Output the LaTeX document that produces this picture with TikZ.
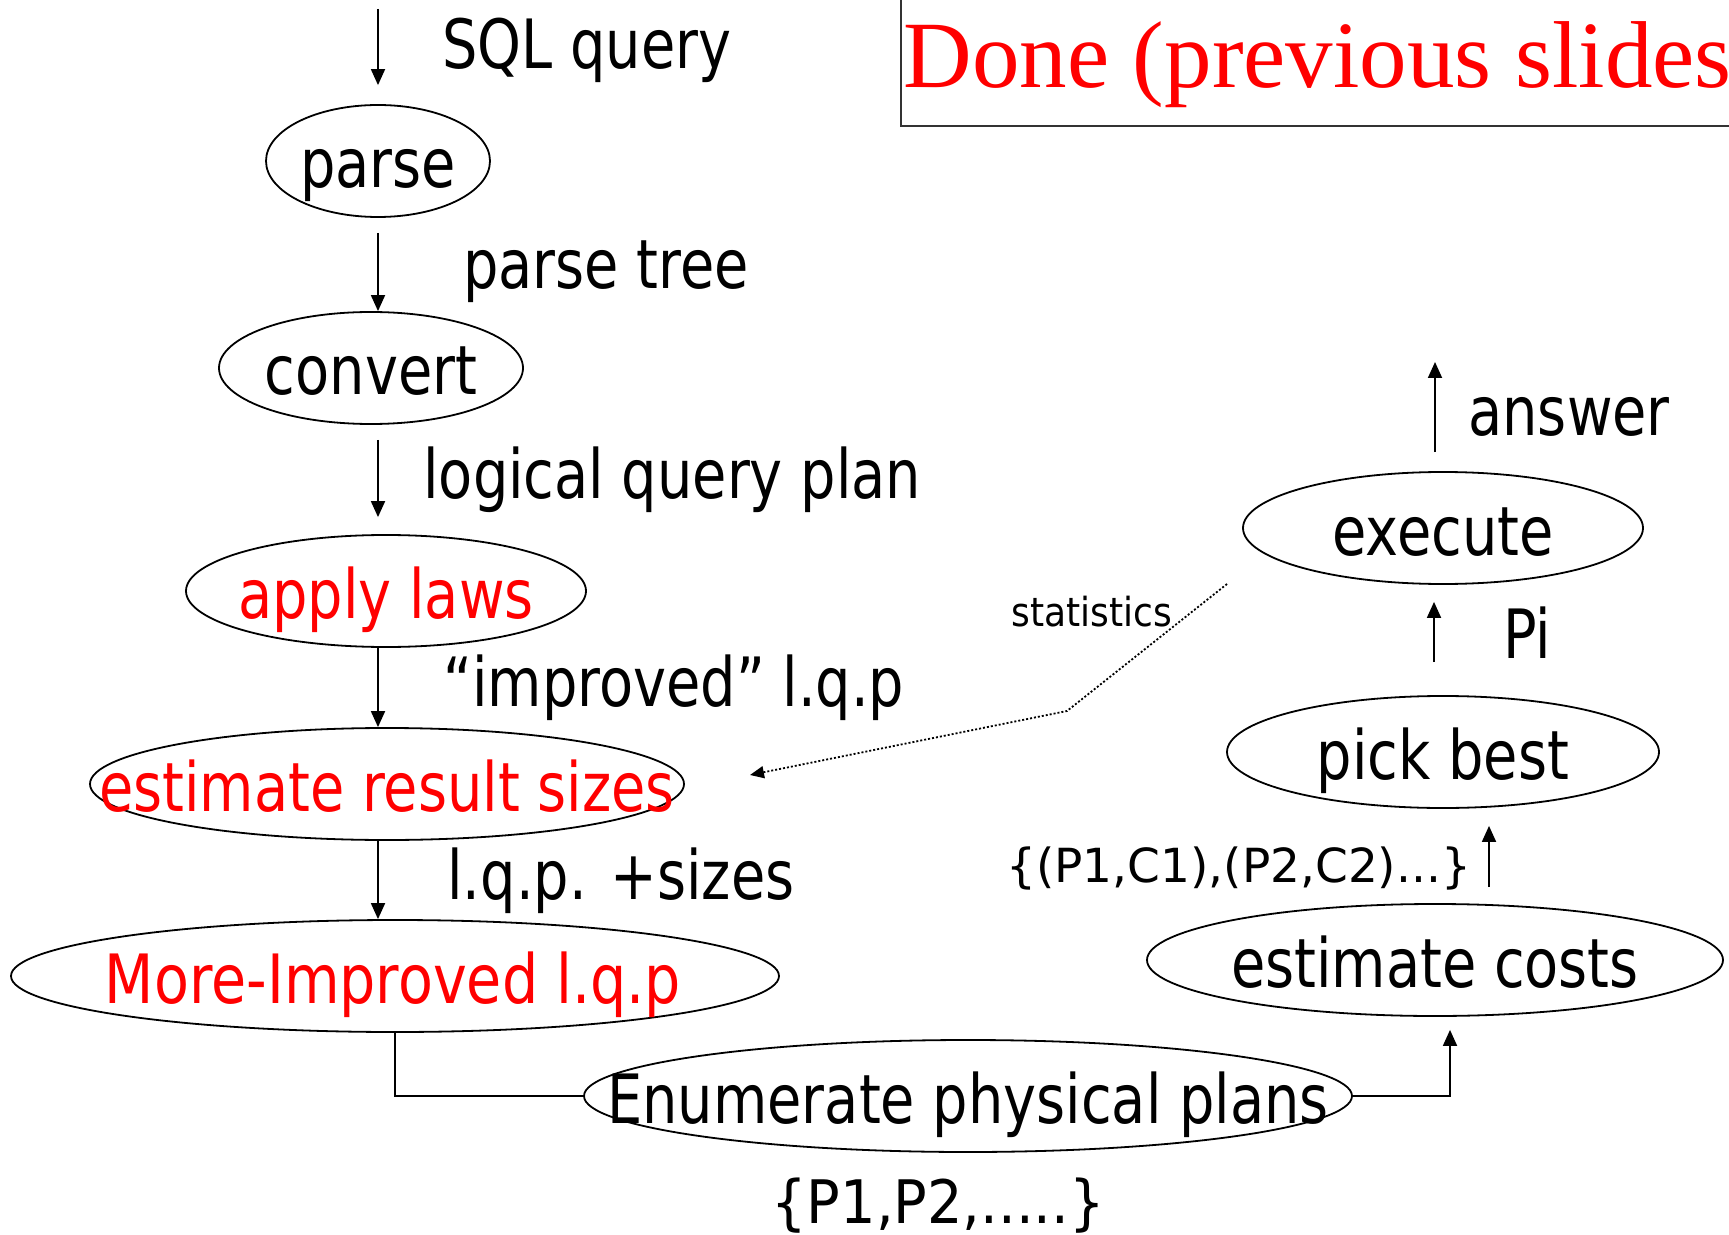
\documentclass[tikz,border=0pt]{standalone}
\usepackage{fontspec}
\setmainfont{DejaVu Sans}[FakeStretch=0.82]
\newfontfamily\widersans{DejaVu Sans}[FakeStretch=0.84]
\newfontfamily\narrowsans{DejaVu Sans}[FakeStretch=0.9]
\newfontfamily\midsans{DejaVu Sans}[FakeStretch=0.93]
\newfontfamily\plainsans{DejaVu Sans}
\newfontfamily\serifface{Liberation Serif}
\usetikzlibrary{shapes.geometric,arrows.meta}

\begin{document}
\begin{tikzpicture}[x=0.5pt,y=-0.5pt,
  oval/.style={draw, ellipse, inner sep=0pt, minimum height=56pt, line width=0.9pt},
  stage/.style={font=\fontsize{34}{40}\selectfont, inner sep=0pt, text height=32pt, text depth=5pt},
  redstage/.style={stage, text=red},
  lab/.style={font=\fontsize{34}{40}\selectfont, inner sep=0pt, anchor=base west},
  flow/.style={line width=0.9pt, -{Triangle[length=8pt,width=7pt]}},
  link/.style={line width=0.9pt},
  hint/.style={line width=0.9pt, dash pattern=on 1pt off 1pt, -{Triangle[length=7pt,width=6pt]}}]

\useasboundingbox (0,0) rectangle (1729,1235);
\clip (0,0) rectangle (1729,1235);

% title box in the top right corner
\coordinate (boxtop) at (901,0);
\coordinate (boxcorner) at (901,126);
\coordinate (boxend) at (1729,126);
\draw[line width=1.2pt, black!80] (boxtop) -- (boxcorner) -- (boxend);
\node[anchor=base west, inner sep=0pt, text=red, font=\serifface\fontsize{47.5}{52}\selectfont] (done) at (903,88) {Done (previous slides};

% stages of the pipeline
\node[oval, minimum width=112pt] (parse) at (378,161) {};
\node[oval, minimum width=152pt] (convert) at (371,368) {};
\node[oval, minimum width=200pt] (apply) at (386,591) {};
\node[oval, minimum width=297pt] (estsize) at (387,784) {};
\node[oval, minimum width=384pt] (moreimp) at (395,976) {};
\node[oval, minimum width=384pt] (enum) at (968,1096) {};
\node[oval, minimum width=288pt] (estcost) at (1435,960) {};
\node[oval, minimum width=216pt] (pick) at (1443,752) {};
\node[oval, minimum width=200pt] (exec) at (1443,528) {};

\node[stage] (parse-t) at (parse) {parse};
\node[stage] (convert-t) at (convert) {convert};
\node[redstage] (apply-t) at (apply) {apply laws};
\node[redstage] (estsize-t) at (estsize) {estimate result sizes};
\node[redstage, font=\widersans\fontsize{34}{40}\selectfont] (moreimp-t) at ([xshift=-1pt]moreimp) {More-Improved l.q.p};
\node[stage] (enum-t) at (enum) {Enumerate physical plans};
\node[stage] (estcost-t) at (estcost) {estimate costs};
\node[stage] (pick-t) at (pick) {pick best};
\node[stage] (exec-t) at (exec) {execute};

% labels on the connectors
\node[lab] (l-sql) at (442,69) {SQL query};
\node[lab] (l-tree) at (463,289) {parse tree};
\node[lab] (l-lqp) at (423,498) {logical query plan};
\node[lab] (l-impr) at (443,706) {“improved” l.q.p};
\node[lab] (l-sizes) at (447,899) {l.q.p. +sizes};
\node[lab] (l-ans) at (1468,436) {answer};
\node[lab] (l-pi) at (1503,658) {Pi};
\node[anchor=base west, inner sep=0pt, font=\narrowsans\fontsize{20}{24}\selectfont] (l-stat) at (1011,626) {statistics};
\node[anchor=base west, inner sep=0pt, font=\plainsans\fontsize{23.5}{28}\selectfont] (l-pc) at (1006,882) {\{(P1,C1),(P2,C2)...\}};
\node[anchor=base west, inner sep=0pt, font=\midsans\fontsize{30}{36}\selectfont] (l-plans) at (771,1223) {\{P1,P2,.....\}};

% connectors
\coordinate (sqlin) at (378,9);
\coordinate (ansout) at (1435,362);
\draw[flow, shorten >=9.5pt] (sqlin) -- (parse.north);
\draw[flow, shorten <=7.5pt] (parse.south) -- (parse.south |- convert.north);
\draw[flow, shorten <=7.5pt, shorten >=8.5pt] (parse.south |- convert.south) -- (parse.south |- apply.north);
\draw[flow] (parse.south |- apply.south) -- (parse.south |- estsize.north);
\draw[flow] (parse.south |- estsize.south) -- (parse.south |- moreimp.north);
\draw[link] (moreimp.south) |- (enum.west);
\draw[flow, shorten >=6.5pt] (enum.east) -| ([xshift=7.5pt]estcost.south);
\draw[flow, shorten <=8pt, shorten >=8.5pt] ([xshift=27pt]estcost.north) -- ([xshift=27pt]estcost.north |- pick.south);
\draw[flow, shorten <=16.5pt, shorten >=8.5pt] ([xshift=-4.5pt]pick.north) -- ([xshift=-4.5pt]pick.north |- exec.south);
\draw[flow, shorten <=9.5pt] ([xshift=-4pt]exec.north) -- (ansout);

% statistics feed back into the size estimate
\coordinate (statsrc) at (1227,584);
\coordinate (statbend) at (1067,711);
\coordinate (statend) at (750,775);
\draw[hint] (statsrc) -- (statbend) -- (statend);
\end{tikzpicture}
\end{document}
